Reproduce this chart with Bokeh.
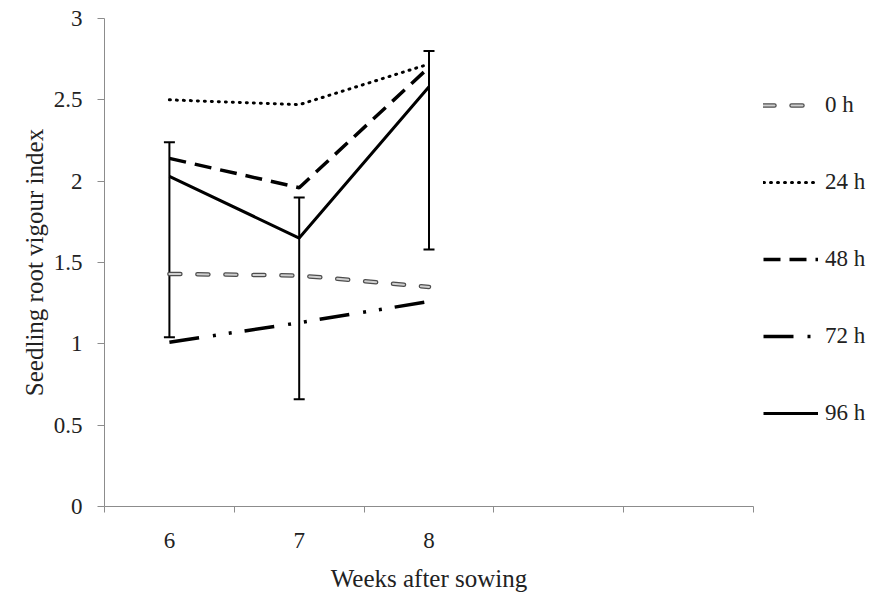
import numpy as np
from bokeh.plotting import figure
from bokeh.layouts import row
from bokeh.models import (ColumnDataSource, FixedTicker, Legend, LegendItem,
                          Whisker, TeeHead, Range1d)
from bokeh.embed import file_html
from bokeh.resources import INLINE

# ---------------- data ----------------
weeks = ["6", "7", "8"]
n_slots = 5                      # the category axis has 5 slots, only 3 used
series_names = ["0 h", "24 h", "48 h", "72 h", "96 h"]
v_0h = [1.43, 1.42, 1.35]
v_24h = [2.50, 2.47, 2.72]
v_48h = [2.14, 1.96, 2.70]
v_72h = [1.01, 1.13, 1.26]
v_96h = [2.03, 1.65, 2.58]
err_96h_upper = [2.24, 1.90, 2.80]
err_96h_lower = [1.04, 0.66, 1.58]
y_ticks = [0, 0.5, 1, 1.5, 2, 2.5, 3]
y_tick_labels = ["0", "0.5", "1", "1.5", "2", "2.5", "3"]

# category slot centres
x = [i + 0.5 for i in range(len(weeks))]

FONT = "Liberation Serif"

# line styles for each series: list of (colour, width, dash, cap)
styles = [
    [("#4d4d4d", 4.5, "11 17", "round"), ("#d0d0d0", 2, "11 17", "round")],
    [("black", 3, "1 6", "round")],
    [("black", 3.5, "17 9", "butt")],
    [("black", 3.5, "30 14 3 13 3 13", "butt")],
    [("black", 3, "solid", "butt")],
]
cols = ["v0", "v24", "v48", "v72", "v96"]

p = figure(width=763, height=596, output_backend="svg", toolbar_location=None,
           x_range=Range1d(0, n_slots), y_range=Range1d(0, 3),
           min_border_left=104, min_border_right=10, min_border_top=18,
           min_border_bottom=90)
p.outline_line_color = None
p.xgrid.visible = False
p.ygrid.visible = False
p.background_fill_color = "white"
p.border_fill_color = "white"

src = ColumnDataSource(dict(x=x, v0=v_0h, v24=v_24h, v48=v_48h, v72=v_72h,
                            v96=v_96h, up=err_96h_upper, lo=err_96h_lower))

# error bars (96 h)
wh = Whisker(base="x", upper="up", lower="lo", source=src,
             line_color="black", line_width=2,
             upper_head=TeeHead(size=11, line_color="black", line_width=2),
             lower_head=TeeHead(size=11, line_color="black", line_width=2))
p.add_layout(wh)

for col, st in zip(cols, styles):
    for (c, w, d, cap) in st:
        p.line("x", col, source=src, line_color=c, line_width=w,
               line_dash=d, line_cap=cap)

# axes
xa = p.xaxis[0]
xa.ticker = FixedTicker(ticks=x, minor_ticks=list(range(n_slots + 1)))
xa.major_label_overrides = {xi: w for xi, w in zip(x, weeks)}
xa.major_tick_out = 0
xa.major_tick_in = 0
xa.minor_tick_out = 6
xa.minor_tick_in = 0
xa.minor_tick_line_color = "#8c8c8c"
xa.axis_line_color = "#8c8c8c"
xa.major_label_standoff = 20
xa.major_label_text_font = FONT
xa.major_label_text_font_size = "23px"
xa.major_label_text_color = "#222222"
xa.axis_label = "Weeks after sowing"
xa.axis_label_text_font = FONT
xa.axis_label_text_font_size = "25px"
xa.axis_label_text_font_style = "normal"
xa.axis_label_text_color = "#222222"
xa.axis_label_standoff = 14

ya = p.yaxis[0]
ya.ticker = FixedTicker(ticks=y_ticks, minor_ticks=[])
ya.major_label_overrides = {t: l for t, l in zip(y_ticks, y_tick_labels)}
ya.major_tick_out = 7
ya.major_tick_in = 0
ya.major_tick_line_color = "#8c8c8c"
ya.axis_line_color = "#8c8c8c"
ya.major_label_standoff = 15
ya.major_label_text_font = FONT
ya.major_label_text_font_size = "23px"
ya.major_label_text_color = "#222222"
ya.axis_label = "Seedling root vigour index"
ya.axis_label_text_font = FONT
ya.axis_label_text_font_size = "25px"
ya.axis_label_text_font_style = "normal"
ya.axis_label_text_color = "#222222"
ya.axis_label_standoff = 3

# ---- legend in a narrow companion figure (its ranges keep the copies out of view) ----
lg = figure(width=110, height=596, output_backend="svg", toolbar_location=None,
            x_range=Range1d(100, 101), y_range=Range1d(100, 101),
            min_border=0, min_border_left=0, min_border_right=0,
            min_border_top=0, min_border_bottom=0)
lg.axis.visible = False
lg.grid.visible = False
lg.outline_line_color = None
lg.background_fill_color = "white"
lg.border_fill_color = "white"

items = []
for name, col, st in zip(series_names, cols, styles):
    rs = [lg.line("x", col, source=src, line_color=c, line_width=w,
                  line_dash=d, line_cap=cap) for (c, w, d, cap) in st]
    items.append(LegendItem(label=name, renderers=rs))

legend = Legend(items=items, location=(0, 80), margin=0, padding=0,
                border_line_color=None, background_fill_alpha=0,
                glyph_width=55, glyph_height=20, label_height=20,
                label_standoff=7, spacing=51,
                label_text_font=FONT, label_text_font_size="23px",
                label_text_color="#222222")
lg.add_layout(legend, "center")

layout = row(p, lg, spacing=0)
open("out.html", "w").write(file_html(layout, INLINE))
